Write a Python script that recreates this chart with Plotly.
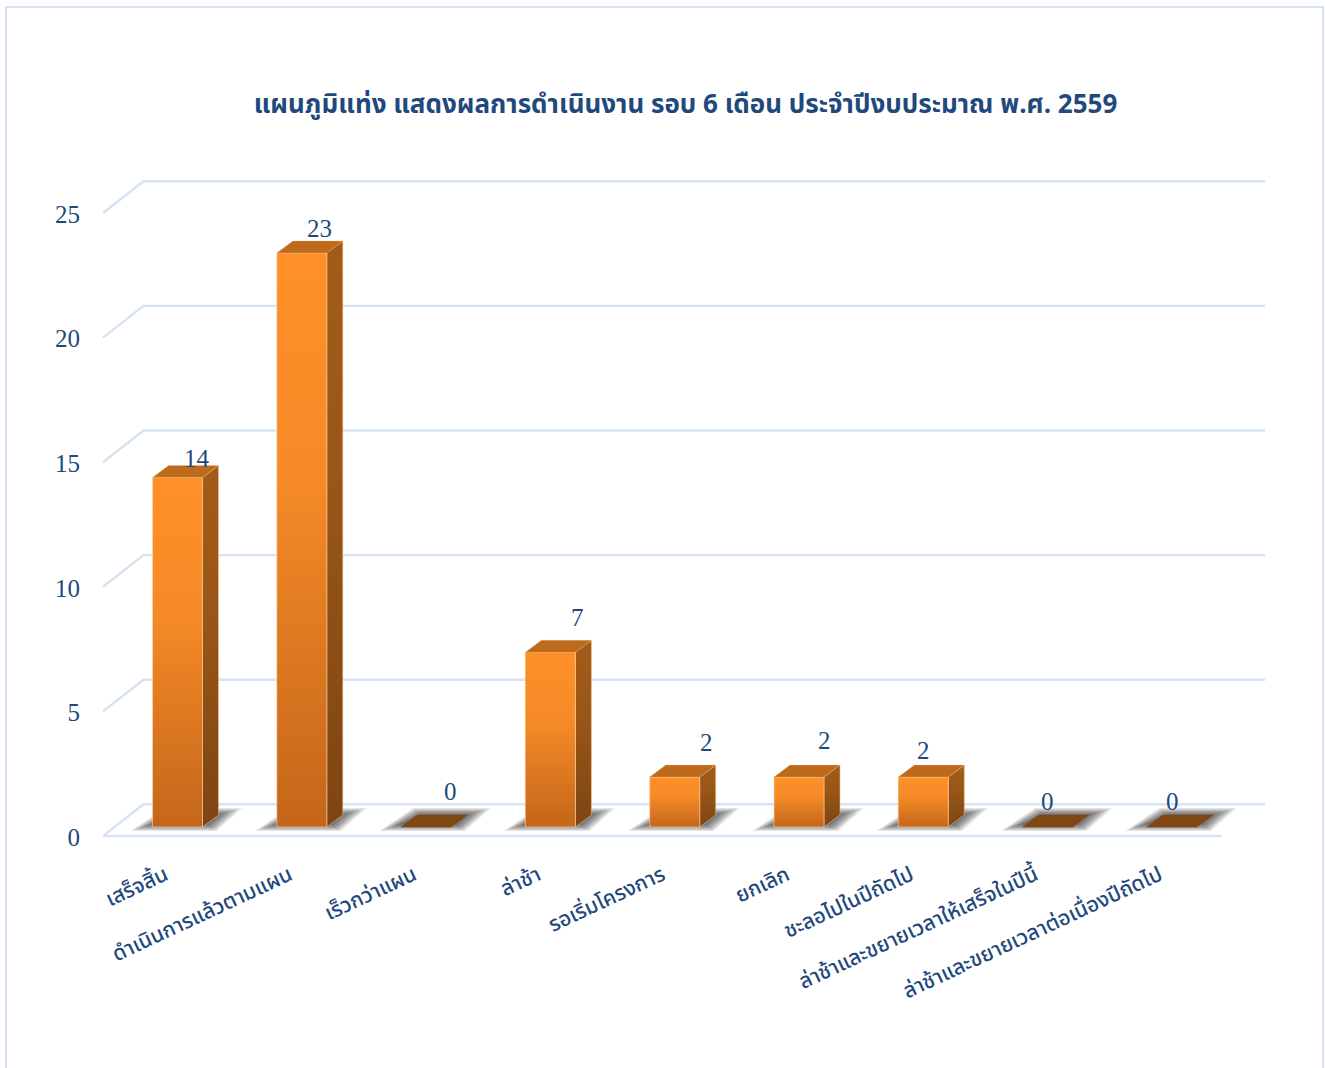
import plotly.graph_objects as go

# ---- data ----
categories = ["เสร็จสิ้น", "ดำเนินการแล้วตามแผน", "เร็วกว่าแผน", "ล่าช้า", "รอเริ่มโครงการ",
              "ยกเลิก", "ชะลอไปในปีถัดไป", "ล่าช้าและขยายเวลาให้เสร็จในปีนี้",
              "ล่าช้าและขยายเวลาต่อเนื่องปีถัดไป"]
values = [14, 23, 0, 7, 2, 2, 2, 0, 0]
y_ticks = [0, 5, 10, 15, 20, 25]
title_text = "แผนภูมิแท่ง แสดงผลการดำเนินงาน รอบ 6 เดือน ประจำปีงบประมาณ พ.ศ. 2559"

# ---- label placement (pixels from the bar's top centre) ----
label_dx = [19, 18, 24, 27, 32, 25, 0, 0, 1]
label_dy = [19, 24, 36, 35, 35, 37, 27, 26, 26]

# ---- style / geometry ----
W, H = 1325, 1068
NAVY = "#1F497D"
GRID = "#D6E3F3"
SERIF = "Liberation Serif, DejaVu Serif, serif"
THAI = "Noto Sans Thai, Noto Sans, Open Sans, sans-serif"
PX_X = 124.3      # pixels per category
PX_Y = 24.96      # pixels per value unit, bars
PX_WALL = 24.92   # pixels per value unit, walls
X0_PX = 177.5     # pixel of first bar centre
BAR_BASE_PX = 827 # pixel of bar baseline
WALL_BASE_PX = 836
BAR_W = 50 / PX_X
DX = 16 / PX_X    # bar depth
DY = 12 / PX_Y
WALL_L = (103 - X0_PX) / PX_X
WALL_DX = 40.5 / PX_X
WALL_DY = 31.7 / PX_WALL
FLOOR_R = (1222 - X0_PX) / PX_X
BACK_R = (1265 - X0_PX) / PX_X

x_range = [(0 - X0_PX) / PX_X, (W - X0_PX) / PX_X]
bar_y_range = [(BAR_BASE_PX - H) / PX_Y, BAR_BASE_PX / PX_Y]
wall_y_range = [(WALL_BASE_PX - H) / PX_WALL, WALL_BASE_PX / PX_WALL]


def floor_y(px_above_bar_base):
    """Wall-axis value of a floor point given in pixels above the bar baseline."""
    return (WALL_BASE_PX - BAR_BASE_PX + px_above_bar_base) / PX_WALL


fig = go.Figure()

# walls and floor (wall axis)
for t in y_ticks:
    fig.add_trace(go.Scatter(
        x=[WALL_L, WALL_L + WALL_DX, BACK_R], y=[t, t + WALL_DY, t + WALL_DY],
        mode="lines", line=dict(color=GRID, width=2.4), hoverinfo="skip", showlegend=False))
fig.add_trace(go.Scatter(x=[WALL_L, FLOOR_R], y=[0, 0], mode="lines",
                         line=dict(color=GRID, width=2.4), hoverinfo="skip", showlegend=False))

# blurred floor shadows, stacked translucent layers
for i in range(len(values)):
    xl, xr = i - BAR_W / 2, i + BAR_W / 2
    for s in [0, 1.5, 3, 4.5, 6, 7.5, 9, 10.5, 12, 13.5, 15, 16.5]:
        fig.add_trace(go.Scatter(
            x=[xl + (-22 + s * 1.2) / PX_X, xr + (14 - s * .5) / PX_X,
               xr + (40 - s * 1.4) / PX_X, xl + (12 + s * .5) / PX_X],
            y=[floor_y(-4 + s * .4), floor_y(-4 + s * .4),
               floor_y(19 - s * .4), floor_y(19 - s * .4)],
            mode="lines", line=dict(width=0), fill="toself",
            fillcolor="rgba(35,35,35,.08)", hoverinfo="skip", showlegend=False))

# bars (bar axis)
fig.add_trace(go.Bar(x=list(range(len(values))), y=values, width=BAR_W, yaxis="y2",
                     marker=dict(color="#E8821F", line=dict(width=0)), showlegend=False,
                     hovertemplate="%{y}<extra></extra>"))

for i, v in enumerate(values):
    xl, xr = i - BAR_W / 2, i + BAR_W / 2
    if v > 0:
        # right side
        fig.add_trace(go.Scatter(
            x=[xr, xr + DX, xr + DX, xr, xr], y=[0, DY, v + DY, v, 0], yaxis="y2",
            mode="lines", line=dict(color="rgba(240,190,140,.55)", width=1), fill="toself",
            fillgradient=dict(type="vertical", start=0, stop=v + DY,
                              colorscale=[[0, "#7D4512"], [.6, "#9A5617"], [1, "#A35C18"]]),
            hoverinfo="skip", showlegend=False))
        # front
        fig.add_trace(go.Scatter(
            x=[xl, xr, xr, xl, xl], y=[0, 0, v, v, 0], yaxis="y2",
            mode="lines", line=dict(color="rgba(255,215,175,.6)", width=1), fill="toself",
            fillgradient=dict(type="vertical", start=0, stop=v,
                              colorscale=[[0, "#C4661A"], [.6, "#F58A27"], [1, "#FF9029"]]),
            hoverinfo="skip", showlegend=False))
    # top
    fig.add_trace(go.Scatter(
        x=[xl, xr, xr + DX, xl + DX, xl], y=[v, v, v + DY, v + DY, v], yaxis="y2",
        mode="lines", line=dict(color="rgba(240,190,140,.4)" if v else "#7F4713", width=.6),
        fill="toself", fillcolor="#BE6A1B" if v else "#7F4713",
        hoverinfo="skip", showlegend=False))

annotations = [
    dict(x=i, y=v, xref="x", yref="y2", text=str(v), showarrow=False,
         xshift=label_dx[i], yshift=label_dy[i], xanchor="center", yanchor="middle",
         font=dict(family=SERIF, size=25, color=NAVY))
    for i, v in enumerate(values)
]

fig.update_layout(
    width=W, height=H, margin=dict(l=0, r=0, t=0, b=0),
    paper_bgcolor="white", plot_bgcolor="rgba(0,0,0,0)", showlegend=False, bargap=0,
    title=dict(text=title_text, x=685.5 / W, xanchor="center", y=1 - 104 / H, yanchor="middle",
               font=dict(family=THAI, size=26, color=NAVY, weight="bold")),
    xaxis=dict(range=x_range, domain=[0, 1], anchor="free", position=(H - 858) / H,
               tickmode="array", tickvals=[i - 0.1 for i in range(len(categories))],
               ticktext=categories, tickangle=-25, ticks="", showline=False, showgrid=False,
               zeroline=False, tickfont=dict(family=THAI, size=21, color=NAVY, weight=500)),
    yaxis=dict(range=wall_y_range, domain=[0, 1], anchor="free", position=80 / W,
               tickmode="array", tickvals=y_ticks, ticks="", showline=False, showgrid=False,
               zeroline=False, ticklabelshift=1,
               tickfont=dict(family=SERIF, size=25, color=NAVY)),
    yaxis2=dict(range=bar_y_range, domain=[0, 1], overlaying="y", anchor="x", visible=False),
    annotations=annotations,
    shapes=[dict(type="rect", xref="paper", yref="paper", x0=6 / W, x1=1323 / W,
                 y0=-0.02, y1=1 - 7 / H, line=dict(color=GRID, width=2), layer="below")],
)

fig.write_html("out.html", config=dict(displayModeBar=False),
               post_script="document.body.style.margin='0';document.body.style.overflow='hidden';")
